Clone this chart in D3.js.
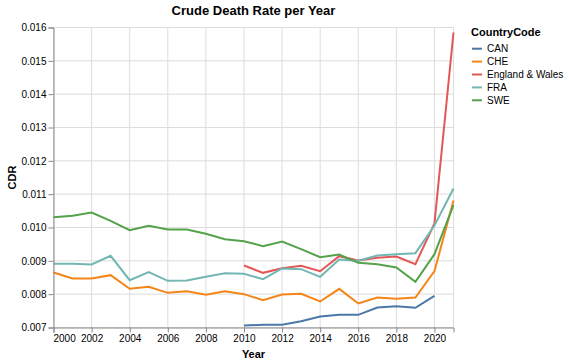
<!DOCTYPE html>
<html>
<head>
<meta charset="utf-8">
<script src="https://cdn.jsdelivr.net/npm/d3@7"></script>
<style>
  html, body { margin: 0; padding: 0; background: #fff; }
  text { font-family: "Liberation Sans", Arial, Helvetica, sans-serif; }
</style>
</head>
<body>
<svg id="chart" width="569" height="364"></svg>
<script>
const years = [2000, 2001, 2002, 2003, 2004, 2005, 2006, 2007, 2008, 2009, 2010,
               2011, 2012, 2013, 2014, 2015, 2016, 2017, 2018, 2019, 2020, 2021];
const countries = ["CAN", "CHE", "England & Wales", "FRA", "SWE"];
const colors = ["#4c78a8", "#f58518", "#e45756", "#72b7b2", "#54a24b"];

const CAN = [null, null, null, null, null, null, null, null, null, null, 0.00706,
             0.00708, 0.00708, 0.00719, 0.00733, 0.00738, 0.00738, 0.00760, 0.00764, 0.00759, 0.00795, null];
const CHE = [0.00865, 0.00847, 0.00847, 0.00857, 0.00816, 0.00822, 0.00804, 0.00809, 0.00798, 0.00809, 0.00800,
             0.00782, 0.00799, 0.00801, 0.00778, 0.00816, 0.00772, 0.00790, 0.00786, 0.00790, 0.00869, 0.01081];
const ENW = [null, null, null, null, null, null, null, null, null, null, 0.00886,
             0.00864, 0.00878, 0.00885, 0.00869, 0.00914, 0.00901, 0.00909, 0.00913, 0.00890, 0.01012, 0.01585];
const FRA = [0.00891, 0.00891, 0.00889, 0.00915, 0.00842, 0.00866, 0.00840, 0.00841, 0.00852, 0.00863, 0.00861,
             0.00845, 0.00877, 0.00875, 0.00852, 0.00904, 0.00900, 0.00916, 0.00920, 0.00923, 0.01006, 0.01117];
const SWE = [0.01031, 0.01035, 0.01045, 0.01020, 0.00992, 0.01005, 0.00994, 0.00994, 0.00981, 0.00965, 0.00959,
             0.00944, 0.00958, 0.00935, 0.00911, 0.00919, 0.00894, 0.00890, 0.00880, 0.00837, 0.00920, 0.01067];
const seriesValues = [CAN, CHE, ENW, FRA, SWE];

const xTicks = [2000, 2002, 2004, 2006, 2008, 2010, 2012, 2014, 2016, 2018, 2020];
const yTicks = [0.007, 0.008, 0.009, 0.010, 0.011, 0.012, 0.013, 0.014, 0.015, 0.016];

const svg = d3.select("#chart");
const margin = {left: 53.5, top: 27.5, right: 453.5, bottom: 327.5};
const x = d3.scaleLinear().domain([2000, 2021]).range([margin.left, margin.right]);
const y = d3.scaleLinear().domain([0.007, 0.016]).range([margin.bottom, margin.top]);

// grid
const g = svg.append("g");
g.selectAll("line.vg").data(xTicks).join("line")
  .attr("x1", d => x(d)).attr("x2", d => x(d))
  .attr("y1", margin.top).attr("y2", margin.bottom)
  .attr("stroke", "#ddd").attr("stroke-width", 1);
g.selectAll("line.hg").data(yTicks).join("line")
  .attr("x1", margin.left).attr("x2", margin.right)
  .attr("y1", d => y(d)).attr("y2", d => y(d))
  .attr("stroke", "#ddd").attr("stroke-width", 1);
g.append("rect").attr("x", margin.left).attr("y", margin.top)
  .attr("width", margin.right - margin.left).attr("height", margin.bottom - margin.top)
  .attr("fill", "none").attr("stroke", "#ddd");

// lines
const line = d3.line()
  .defined(d => d.v !== null)
  .x(d => x(d.year)).y(d => y(d.v));
seriesValues.forEach((vals, i) => {
  const pts = years.map((yr, j) => ({year: yr, v: vals[j]}));
  svg.append("path").datum(pts)
    .attr("d", line)
    .attr("fill", "none")
    .attr("stroke", colors[i])
    .attr("stroke-width", 2);
});

// x axis
const xAxis = d3.axisBottom(x).tickValues(xTicks).tickFormat(d3.format("d")).tickSize(5).tickPadding(2);
const xg = svg.append("g").attr("transform", `translate(0,${margin.bottom})`).call(xAxis);
xg.select(".domain").attr("stroke", "#888");
xg.selectAll(".tick line").attr("stroke", "#888");
xg.selectAll(".tick text").attr("font-size", 10).attr("fill", "#000")
  .attr("font-family", "Liberation Sans, Arial, sans-serif")
  .attr("text-anchor", d => d === 2000 ? "start" : "middle")
  .attr("dx", d => d === 2000 ? "-0.5" : 0);

// y axis
const yAxis = d3.axisLeft(y).tickValues(yTicks).tickFormat(d3.format(".3f")).tickSize(5).tickPadding(2);
const yg = svg.append("g").attr("transform", `translate(${margin.left},0)`).call(yAxis);
yg.select(".domain").attr("stroke", "#888");
yg.selectAll(".tick line").attr("stroke", "#888");
yg.selectAll(".tick text").attr("font-size", 10).attr("fill", "#000")
  .attr("font-family", "Liberation Sans, Arial, sans-serif");

// titles
svg.append("text").attr("x", (margin.left + margin.right) / 2).attr("y", 15)
  .attr("text-anchor", "middle").attr("font-size", 13).attr("font-weight", "bold")
  .text("Crude Death Rate per Year");
svg.append("text").attr("x", (margin.left + margin.right) / 2).attr("y", 358)
  .attr("text-anchor", "middle").attr("font-size", 11).attr("font-weight", "bold")
  .text("Year");
svg.append("text").attr("transform", `translate(16,${(margin.top + margin.bottom) / 2}) rotate(-90)`)
  .attr("text-anchor", "middle").attr("font-size", 11).attr("font-weight", "bold")
  .text("CDR");

// legend
const lg = svg.append("g").attr("transform", "translate(471,0)");
lg.append("text").attr("x", 0).attr("y", 36).attr("font-size", 11).attr("font-weight", "bold")
  .text("CountryCode");
const items = lg.selectAll("g.item").data(countries).join("g")
  .attr("transform", (d, i) => `translate(0,${48.7 + i * 12.9})`);
items.append("line").attr("x1", 1).attr("x2", 11).attr("y1", 0).attr("y2", 0)
  .attr("stroke", (d, i) => colors[i]).attr("stroke-width", 2);
items.append("text").attr("x", 16).attr("y", 3.5).attr("font-size", 10).attr("fill", "#000")
  .text(d => d);
</script>
</body>
</html>
